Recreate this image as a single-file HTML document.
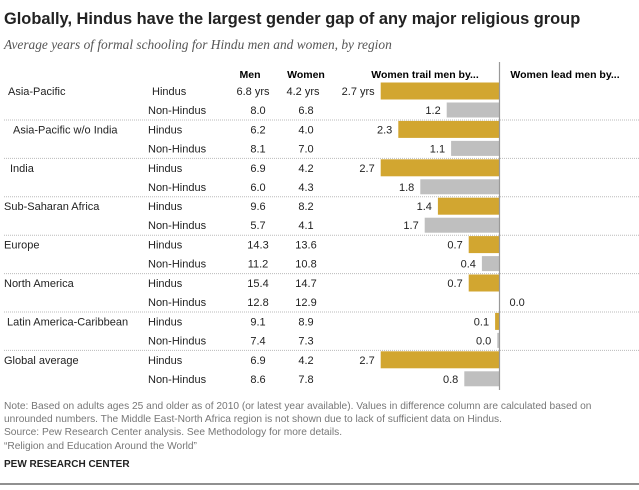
<!DOCTYPE html>
<html><head><meta charset="utf-8"><style>
body{margin:0;background:#fff;}
svg text{font-family:"Liberation Sans",sans-serif;}
</style></head><body>
<svg id="c" width="639" height="485" xmlns="http://www.w3.org/2000/svg">
<text x="4" y="24" font-size="16.4" font-weight="bold" fill="#222">Globally, Hindus have the largest gender gap of any major religious group</text>
<text x="4" y="49" font-size="13.4" font-style="italic" fill="#555" style="font-family:'Liberation Serif',serif">Average years of formal schooling for Hindu men and women, by region</text>
<text x="250" y="78" font-size="10.5" font-weight="bold" text-anchor="middle">Men</text>
<text x="306" y="78" font-size="10.5" font-weight="bold" text-anchor="middle">Women</text>
<text x="425" y="78" font-size="10.5" font-weight="bold" text-anchor="middle">Women trail men by...</text>
<text x="565" y="78" font-size="10.5" font-weight="bold" text-anchor="middle">Women lead men by...</text>
<g id="rows"></g>
<text font-size="10.2" fill="#777">
<tspan x="4" y="409">Note: Based on adults ages 25 and older as of 2010 (or latest year available). Values in difference column are calculated based on</tspan>
<tspan x="4" y="422">unrounded numbers. The Middle East-North Africa region is not shown due to lack of sufficient data on Hindus.</tspan>
<tspan x="4" y="435">Source: Pew Research Center analysis. See Methodology for more details.</tspan>
<tspan x="4" y="449">“Religion and Education Around the World”</tspan></text>
<text x="4" y="467" font-size="10" font-weight="bold" fill="#222">PEW RESEARCH CENTER</text>
<line x1="0" x2="639" y1="484" y2="484" stroke="#222" stroke-width="1"/>
</svg>
<script>
const regions=["Asia-Pacific","Asia-Pacific w/o India","India","Sub-Saharan Africa","Europe","North America","Latin America-Caribbean","Global average"];
const regionIndent=[8,13,10,4,4,4,7,4];
const groups=["Hindus","Non-Hindus"];
const men=["6.8 yrs","8.0","6.2","8.1","6.9","6.0","9.6","5.7","14.3","11.2","15.4","12.8","9.1","7.4","6.9","8.6"];
const women=["4.2 yrs","6.8","4.0","7.0","4.2","4.3","8.2","4.1","13.6","10.8","14.7","12.9","8.9","7.3","4.2","7.8"];
const gap=[2.7,1.2,2.3,1.1,2.7,1.8,1.4,1.7,0.7,0.4,0.7,-0.02,0.1,0.05,2.7,0.8];
const gapLabels=["2.7 yrs","1.2","2.3","1.1","2.7","1.8","1.4","1.7","0.7","0.4","0.7","0.0","0.1","0.0","2.7","0.8"];
const zero=499.5, scale=44;
const x=v=>zero-v*scale;
const g=document.getElementById('rows');
const NS="http://www.w3.org/2000/svg";
function mk(t,a,txt){const e=document.createElementNS(NS,t);for(const k in a)e.setAttribute(k,a[k]);if(txt!==undefined)e.textContent=txt;g.appendChild(e);return e;}
regions.forEach((r,i)=>{
  const y0=91+i*38.4;
  let t=mk('text',{x:regionIndent[i],y:y0+4,'font-size':11,fill:'#222'},r);
  
  
  if(i<regions.length-1){
    let l=mk('line',{x1:4,x2:639,y1:y0+29,y2:y0+29,stroke:'#bbb','stroke-dasharray':'1,1'});
    
    
  }
  groups.forEach((gr,j)=>{
    const k=i*2+j, y=y0+j*19;
    let a=mk('text',{x:(i==0&&j==0)?152:148,y:y+4,'font-size':11,fill:'#222'},gr);
    
    
    let m=mk('text',{x:k==0?253:258,y:y+4,'font-size':11,fill:'#222','text-anchor':'middle'},men[k]);
    
    
    let w=mk('text',{x:k==0?303:306,y:y+4,'font-size':11,fill:'#222','text-anchor':'middle'},women[k]);
    
    
    const v=gap[k];
    const col=j==0?'#d2a630':'#bfbfbf';
    const h=j==0?17:15;
    if(v>0){
      const bx=x(v), bw=Math.max(zero-bx,2);
      let b=mk('rect',{x:zero-bw,y:y-h/2,width:bw,height:h,fill:col});
      
      
      let lb=mk('text',{x:zero-bw-6,y:y+4,'font-size':11,fill:'#222','text-anchor':'end'},gapLabels[k]);
      
      
    } else {
      let lb=mk('text',{x:zero+10,y:y+4,'font-size':11,fill:'#222'},gapLabels[k]);
      
      
    }
  });
});
let ax=mk('line',{x1:zero,x2:zero,y1:62,y2:390,stroke:'#999','stroke-width':1.2});


</script>
</body></html>
